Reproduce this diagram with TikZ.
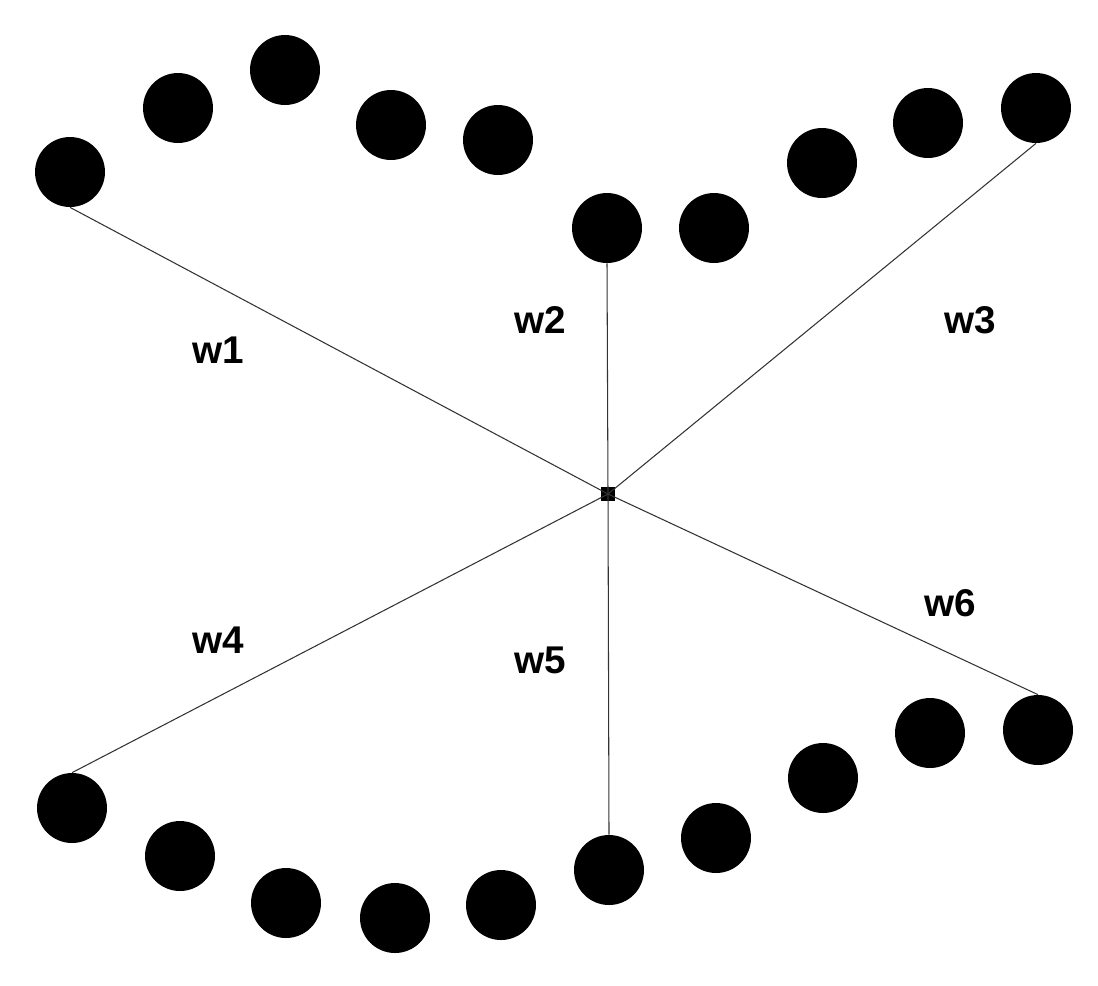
\documentclass[tikz,border=0pt]{standalone}
\usepackage{fontspec}
\setmainfont{Liberation Sans}
\begin{document}
\begin{tikzpicture}[x=0.02cm,y=-0.02cm,
  dot/.style={circle,fill=black,minimum size=1.4cm,inner sep=0pt},
  lab/.style={font=\fontsize{22}{26}\selectfont\bfseries},
  wire/.style={line width=0.6pt,black!80}]
\useasboundingbox (0,0) rectangle (1098,985);
\foreach \n/\x/\y in {a1/70/172,a2/178/108,a3/285/70,a4/391/125,a5/498/140,
 b1/607/228,b2/714/228,b3/822/163,b4/928/123,b5/1036/108,
 c1/72/808,c2/180/856,c3/286/903,c4/395/918,c5/501/905,
 d1/609/870,d2/716/838,d3/823/778,d4/930/733,d5/1038/730}
 \node[dot] (\n) at (\x,\y) {};
\node[fill=black,minimum size=0.28cm,inner sep=0pt] (c) at (608,494) {};
\draw[wire] (c.center) -- (a1.south);
\draw[wire] (c.center) -- (b1.south);
\draw[wire] (c.center) -- (b5.south);
\draw[wire] (c.center) -- (c1.north);
\draw[wire] (c.center) -- (d1.north);
\draw[wire] (c.center) -- (d5.north);
\node[lab] (l1) at (218,350) {w1};
\node[lab] (l2) at (540,320) {w2};
\node[lab] (l3) at (970,320) {w3};
\node[lab] (l4) at (218,640) {w4};
\node[lab] (l5) at (540,660) {w5};
\node[lab] (l6) at (950,603) {w6};
\end{tikzpicture}
\end{document}
